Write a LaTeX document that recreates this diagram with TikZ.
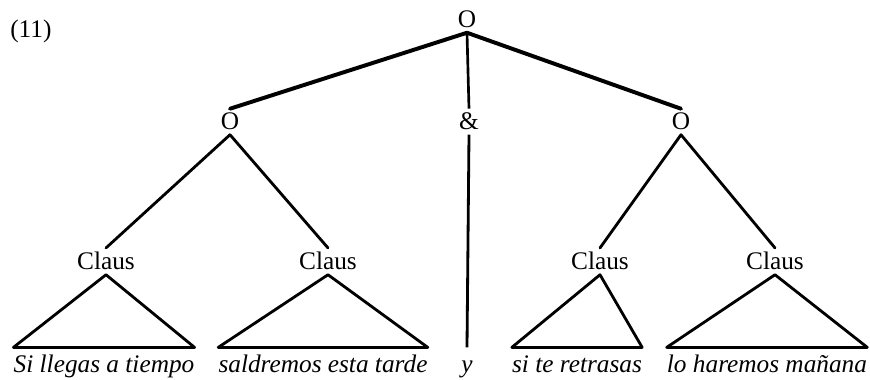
\documentclass[tikz,border=0pt]{standalone}
\usepackage{fontspec}
\setmainfont{Liberation Serif}
\begin{document}
\begin{tikzpicture}[font=\fontsize{18}{22}\selectfont,
    cat/.style={anchor=base,inner sep=3pt},
    word/.style={anchor=base,font=\fontsize{18}{22}\selectfont\itshape,
        text height=12pt,text depth=4pt,inner xsep=0pt,inner ysep=6pt},
    branch/.style={line width=2.8pt,line cap=round},
    edge/.style={line width=2pt,line cap=round,line join=round}]
    \useasboundingbox (0,0) rectangle (21.75,9.5);
    \node[anchor=base west,inner sep=0pt] (num) at (0.25,8.55) {(11)};
    % upper level
    \node[cat] (top) at (11.675,8.8) {O};
    \node[cat] (lo) at (5.75,6.25) {O};
    \node[cat] (amp) at (11.725,6.25) {\&};
    \node[cat] (ro) at (17.025,6.25) {O};
    \draw[branch] (top.south) -- (lo.north);
    \draw[branch] (top.south) -- (ro.north);
    \draw[line width=1.9pt] (top.south) -- (amp.north);
    % clauses
    \node[cat] (c1) at (2.65,2.75) {Claus};
    \node[cat] (c2) at (8.2,2.75) {Claus};
    \node[cat] (c3) at (15.0,2.75) {Claus};
    \node[cat] (c4) at (19.375,2.75) {Claus};
    \draw[edge] (lo.south) -- (c1.north);
    \draw[edge] (lo.south) -- (c2.north);
    \draw[edge] (ro.south) -- (c3.north);
    \draw[edge] (ro.south) -- (c4.north);
    % words
    \node[word] (w1) at (2.6,0.175) {Si llegas a tiempo};
    \node[word] (w2) at (8.075,0.175) {saldremos esta tarde};
    \node[word] (wy) at (11.675,0.175) {y};
    \node[word] (w3) at (14.425,0.175) {si te retrasas};
    \node[word] (w4) at (19.175,0.175) {lo haremos mañana};
    \draw[line width=2pt] (amp.south) -- (wy.north);
    % triangles
    \foreach \c/\w in {c1/w1,c2/w2,c3/w3,c4/w4}
        \draw[edge] (\c.south) -- (\w.north west) -- (\w.north east) -- cycle;
\end{tikzpicture}
\end{document}
